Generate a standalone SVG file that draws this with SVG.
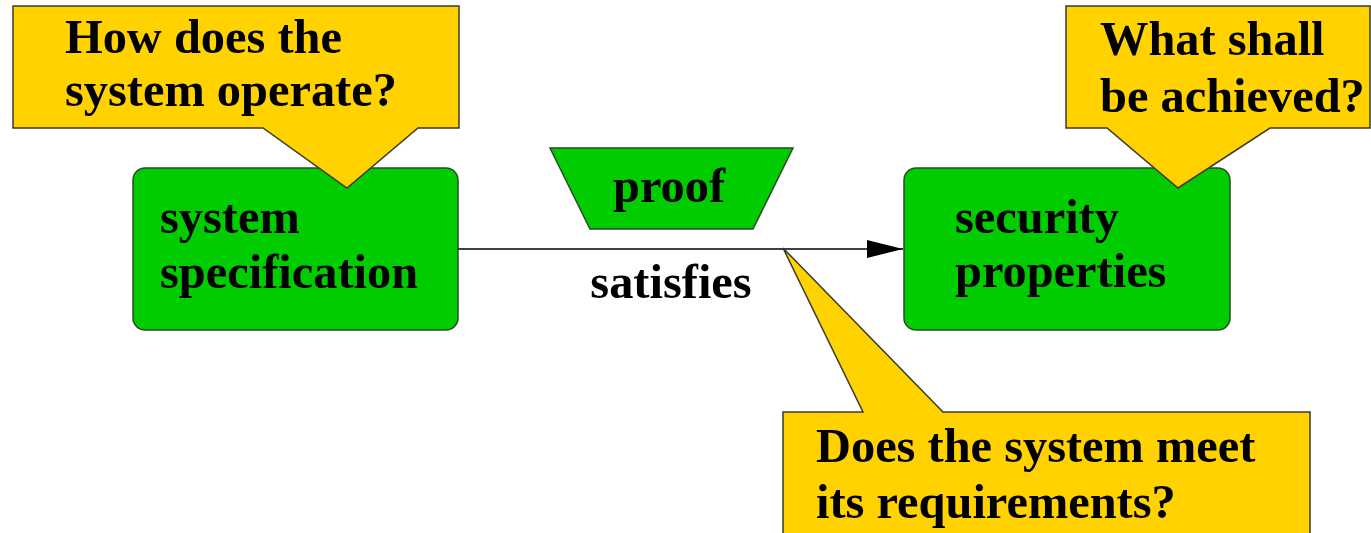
<svg xmlns="http://www.w3.org/2000/svg" width="1371" height="533" viewBox="0 0 1371 533">
<style>
.callout{fill:#FFD200;stroke:#3a3a2a;stroke-width:1.5}
.box{fill:#00CC00;stroke:#2a4a2a;stroke-width:1.5}
.t{font-family:"Liberation Serif","Times New Roman",serif;font-weight:bold;font-size:48.4px;fill:#000}
.conn{stroke:#000;stroke-width:1.5;fill:none}
</style>
<defs>
<marker id="arr" markerWidth="36" markerHeight="18" refX="36" refY="9" orient="auto" markerUnits="userSpaceOnUse" viewBox="0 0 36 18">
<path d="M0,0 L36,9 L0,18 Z" fill="#000"/>
</marker>
</defs>
<g id="connectors">
<line class="conn" x1="458" y1="249" x2="903" y2="249" marker-end="url(#arr)"/>
</g>
<g id="proof">
<polygon class="box" points="550,148 793,148 753,229 590,229"/>
<text class="t" x="669" y="202" text-anchor="middle">proof</text>
</g>
<g id="satisfies-label">
<text class="t" x="671" y="298" text-anchor="middle">satisfies</text>
</g>
<g id="system-specification">
<rect class="box" x="133" y="168" width="325" height="162" rx="12"/>
<text class="t" x="160" y="233">system</text>
<text class="t" x="160" y="288">specification</text>
</g>
<g id="security-properties">
<rect class="box" x="904" y="168" width="326" height="162" rx="12"/>
<text class="t" x="955" y="233">security</text>
<text class="t" x="955" y="287">properties</text>
</g>
<g id="callout-operate">
<path class="callout" d="M13,6 H459 V128 H418 L347,188 L263,128 H13 Z"/>
<text class="t" x="65" y="53">How does the</text>
<text class="t" x="65" y="106">system operate?</text>
</g>
<g id="callout-achieved">
<path class="callout" d="M1066,6 H1370 V128 H1270 L1178,188 L1107,128 H1066 Z"/>
<text class="t" x="1100" y="55">What shall</text>
<text class="t" x="1100" y="112">be achieved?</text>
</g>
<g id="callout-requirements">
<path class="callout" d="M783,248 L943,412 H1310 V540 H783 V412 H863 Z"/>
<text class="t" x="816" y="462">Does the system meet</text>
<text class="t" x="816" y="518">its requirements?</text>
</g>
</svg>
